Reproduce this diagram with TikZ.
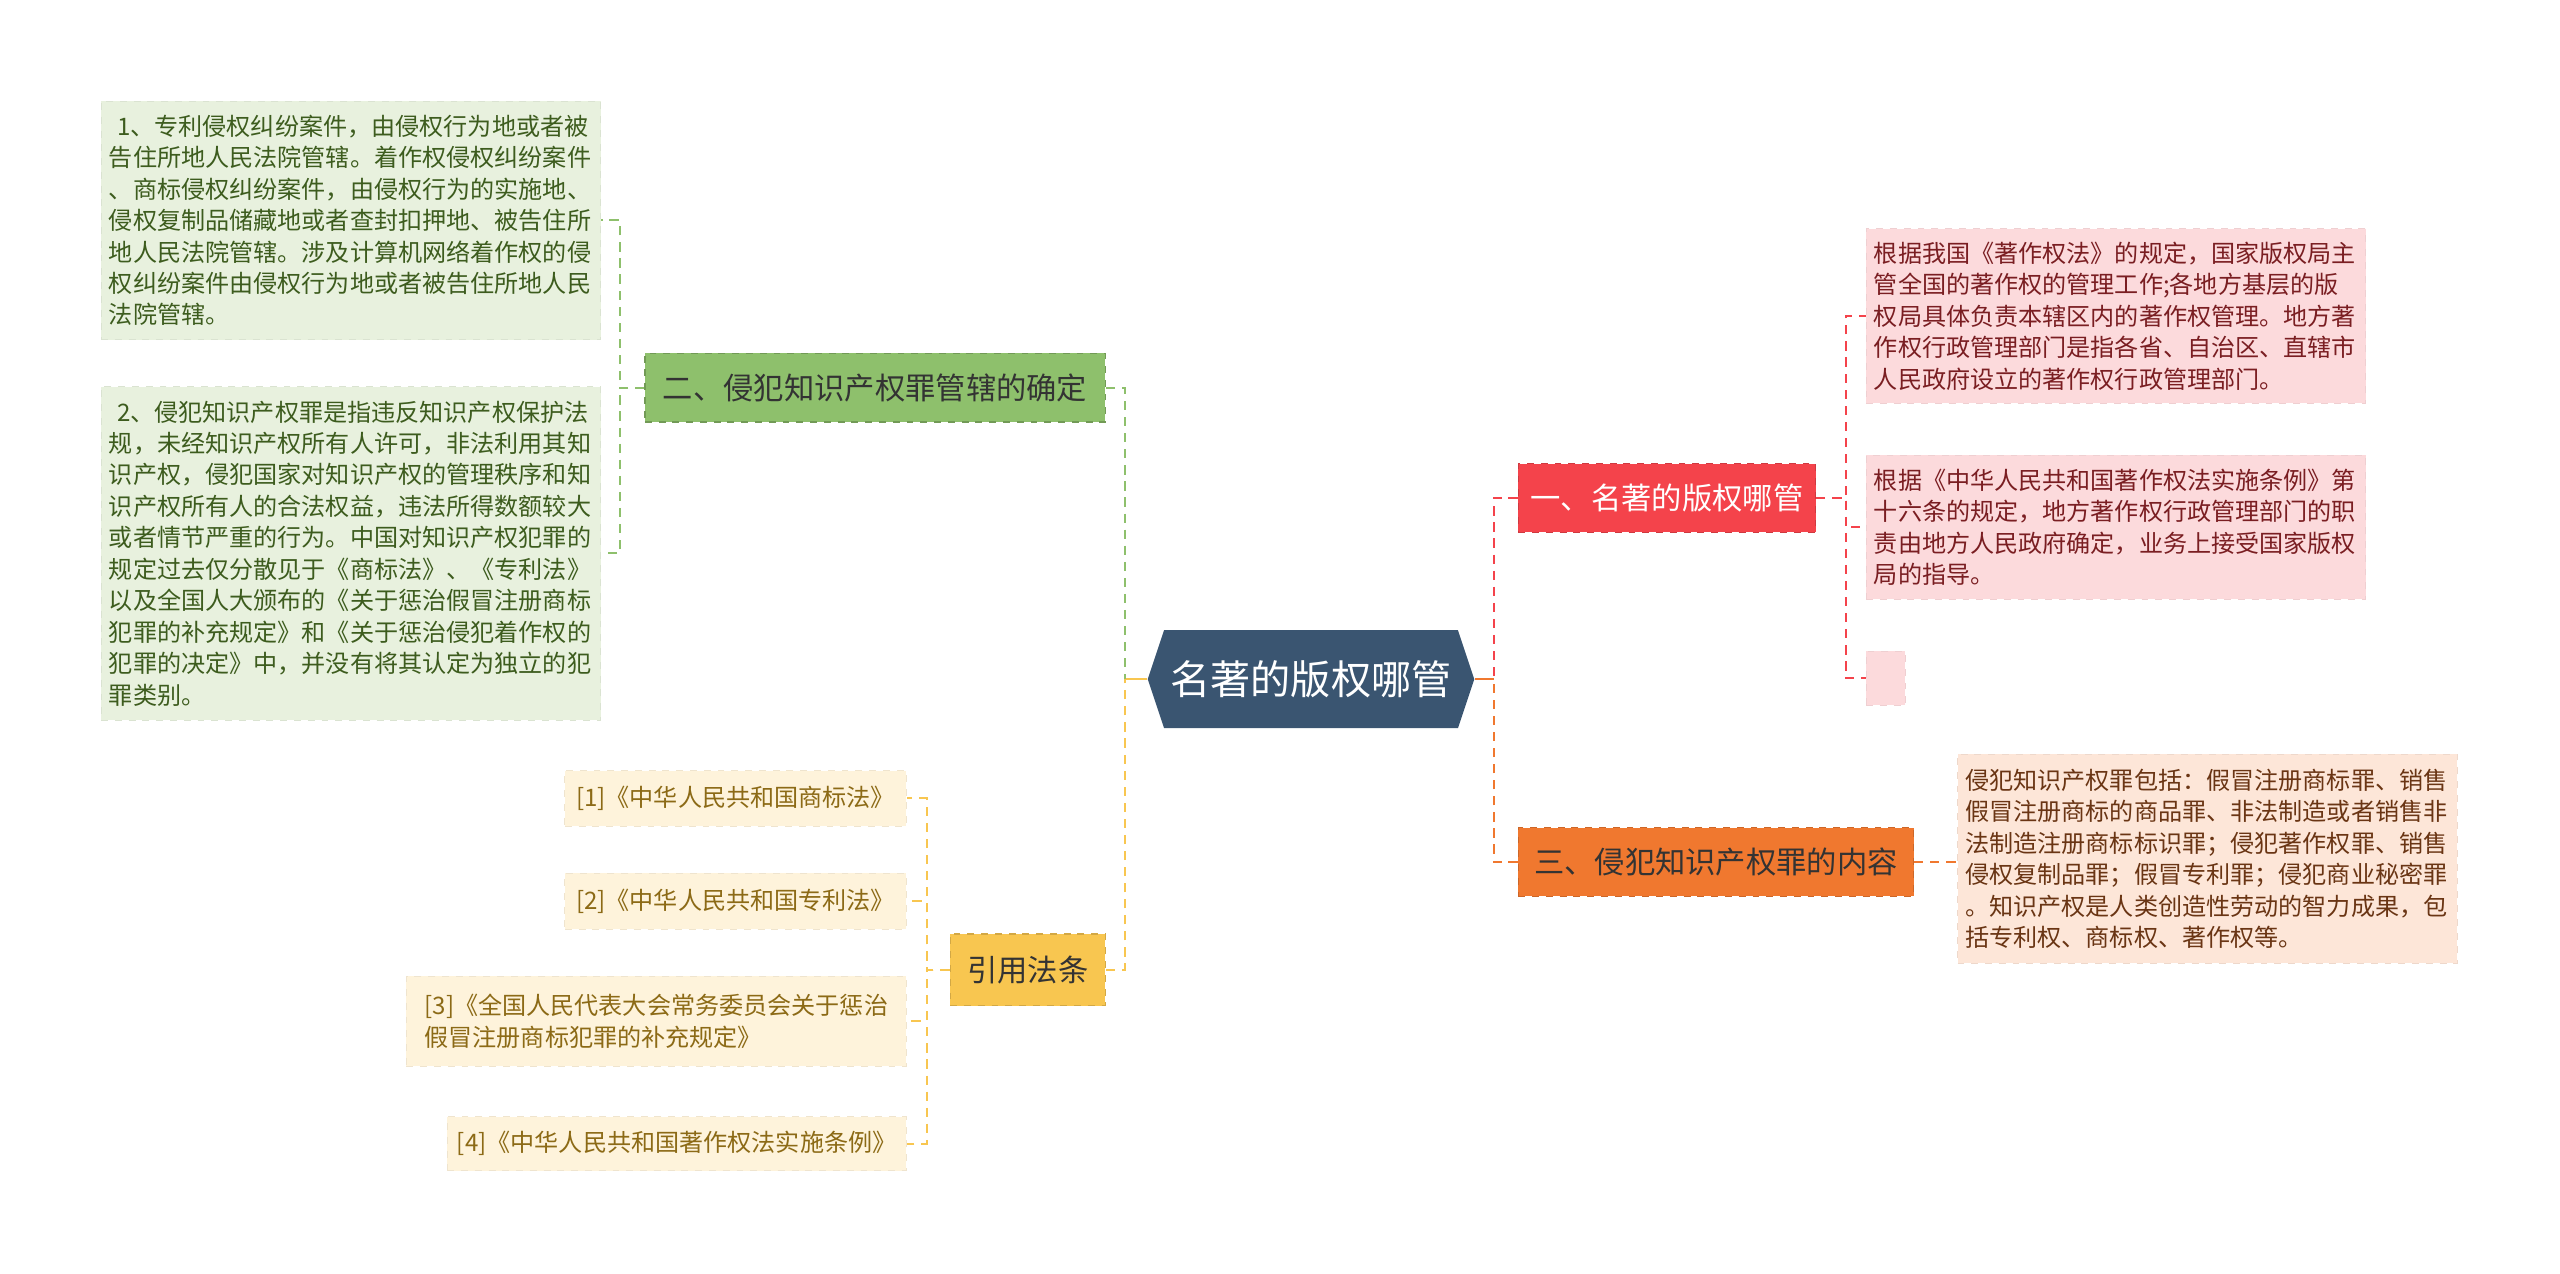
\documentclass[tikz,border=0pt]{standalone}
\usepackage{fontspec}
\newfontfamily\cjk{Noto Sans CJK SC}
\usetikzlibrary{positioning}
\definecolor{rootbg}{HTML}{3A5571}
\definecolor{greenbg}{HTML}{8EC06C}
\definecolor{greenleaf}{HTML}{E8F1DE}
\definecolor{greentext}{HTML}{3D5C1E}
\definecolor{redbg}{HTML}{F4434B}
\definecolor{redleaf}{HTML}{FCDADC}
\definecolor{redtext}{HTML}{7A1E22}
\definecolor{orangebg}{HTML}{F0782F}
\definecolor{orangeleaf}{HTML}{FDE6D8}
\definecolor{orangetext}{HTML}{6A3514}
\definecolor{yellowbg}{HTML}{F8C650}
\definecolor{yellowleaf}{HTML}{FEF3DB}
\definecolor{yellowtext}{HTML}{8C6A16}
\begin{document}
\begin{tikzpicture}[x=0.025cm, y=-0.025cm,
  roottext/.style={font=\cjk\fontsize{17.5}{20}\selectfont, text=white, minimum width=5cm, minimum height=1.5cm},
  topic/.style={font=\cjk\fontsize{13.2}{16}\selectfont, draw, dashed, line width=0.6pt, minimum height=1.05cm},
  leaf/.style={font=\cjk\fontsize{10.5}{13.7}\selectfont, inner xsep=0.12cm, inner ysep=0pt, draw, dashed, line width=0.4pt},
  wide/.style={text width=7.41cm, align=left},
  gleaf/.style={leaf, fill=greenleaf, draw=greenleaf!94!black, text=greentext},
  rleaf/.style={leaf, fill=redleaf, draw=redleaf!95!black, text=redtext},
  oleaf/.style={leaf, fill=orangeleaf, draw=orangeleaf!94!black, text=orangetext},
  yleaf/.style={leaf, fill=yellowleaf, draw=yellowleaf!94!black, text=yellowtext},
  link/.style={line width=0.9pt, dash pattern=on 4pt off 3pt}]
\useasboundingbox (0,0) rectangle (1568,780);

% 中心ノード
\fill[rootbg] (703,416) -- (713,386) -- (893,386) -- (903,416) -- (893,446) -- (713,446) -- cycle;
\node[roottext] (root) at (803,416) {名著的版权哪管};

% 一级主题
\node[topic, fill=greenbg, draw=greenbg!80!black, text=black!80, minimum width=7.05cm] (g1) at (536,237.5) {二、侵犯知识产权罪管辖的确定};
\node[topic, fill=redbg, draw=redbg!85!black, text=white, minimum width=4.55cm] (r1) at (1021,305) {一、名著的版权哪管};
\node[topic, fill=orangebg, draw=orangebg!85!black, text=black!80, minimum width=6.05cm] (o1) at (1051,528) {三、侵犯知识产权罪的内容};
\node[topic, fill=yellowbg, draw=yellowbg!85!black, text=black!80, minimum width=2.375cm, minimum height=1.1cm] (y1) at (629.5,594) {引用法条};

% 左侧内容
\node[gleaf, wide, minimum height=3.65cm] (gl1) at (215,135) {~1、专利侵权纠纷案件，由侵权行为地或者被\\告住所地人民法院管辖。着作权侵权纠纷案件\\、商标侵权纠纷案件，由侵权行为的实施地、\\侵权复制品储藏地或者查封扣押地、被告住所\\地人民法院管辖。涉及计算机网络着作权的侵\\权纠纷案件由侵权行为地或者被告住所地人民\\法院管辖。};
\node[gleaf, wide, minimum height=5.1cm] (gl2) at (215,339) {~2、侵犯知识产权罪是指违反知识产权保护法\\规，未经知识产权所有人许可，非法利用其知\\识产权，侵犯国家对知识产权的管理秩序和知\\识产权所有人的合法权益，违法所得数额较大\\或者情节严重的行为。中国对知识产权犯罪的\\规定过去仅分散见于《商标法》、《专利法》\\以及全国人大颁布的《关于惩治假冒注册商标\\犯罪的补充规定》和《关于惩治侵犯着作权的\\犯罪的决定》中，并没有将其认定为独立的犯\\罪类别。};

\node[yleaf, minimum width=5.225cm, minimum height=0.85cm] (yl1) at (450.5,489) {[1]《中华人民共和国商标法》};
\node[yleaf, minimum width=5.225cm, minimum height=0.85cm] (yl2) at (450.5,552) {[2]《中华人民共和国专利法》};
\node[yleaf, align=left, minimum width=7.65cm, minimum height=1.375cm] (yl3) at (402,625.5) {[3]《全国人民代表大会常务委员会关于惩治\\假冒注册商标犯罪的补充规定》};
\node[yleaf, minimum width=7.025cm, minimum height=0.825cm] (yl4) at (414.5,700.5) {[4]《中华人民共和国著作权法实施条例》};

% 右侧内容
\node[rleaf, wide, minimum height=2.675cm] (rl1) at (1296,193.5) {根据我国《著作权法》的规定，国家版权局主\\管全国的著作权的管理工作;各地方基层的版\\权局具体负责本辖区内的著作权管理。地方著\\作权行政管理部门是指各省、自治区、直辖市\\人民政府设立的著作权行政管理部门。};
\node[rleaf, wide, minimum height=2.2cm] (rl2) at (1296,323) {根据《中华人民共和国著作权法实施条例》第\\十六条的规定，地方著作权行政管理部门的职\\责由地方人民政府确定，业务上接受国家版权\\局的指导。};
\node[rleaf, minimum width=0.6cm, minimum height=0.825cm] (rl3) at (1155,415.5) {};

\node[oleaf, wide, minimum height=3.2cm] (ol1) at (1352,526) {侵犯知识产权罪包括：假冒注册商标罪、销售\\假冒注册商标的商品罪、非法制造或者销售非\\法制造注册商标标识罪；侵犯著作权罪、销售\\侵权复制品罪；假冒专利罪；侵犯商业秘密罪\\。知识产权是人类创造性劳动的智力成果，包\\括专利权、商标权、著作权等。};

% 连线
\coordinate (lj) at (689,416);
\coordinate (rj) at (915,416);
\draw[yellowbg, line width=1pt] (root.west) -- (lj);
\draw[orangebg, line width=1pt] (root.east) -- (rj);
\draw[link, greenbg] (g1.east) -| (lj);
\draw[link, yellowbg] (y1.east) -| (lj);
\draw[link, redbg] (r1.west) -| (rj);
\draw[link, orangebg] (o1.west) -| (rj);

\foreach \n in {gl1,gl2}
  \draw[link, greenbg] (g1.west) -- ++(-15,0) |- (\n.east);
\foreach \n in {yl1,yl2,yl3,yl4}
  \draw[link, yellowbg] (y1.west) -- ++(-14,0) |- (\n.east);
\foreach \n in {rl1,rl2,rl3}
  \draw[link, redbg] (r1.east) -- ++(18,0) |- (\n.west);
\draw[link, orangebg] (o1.east) -- (ol1.west |- o1.east);
\end{tikzpicture}
\end{document}
